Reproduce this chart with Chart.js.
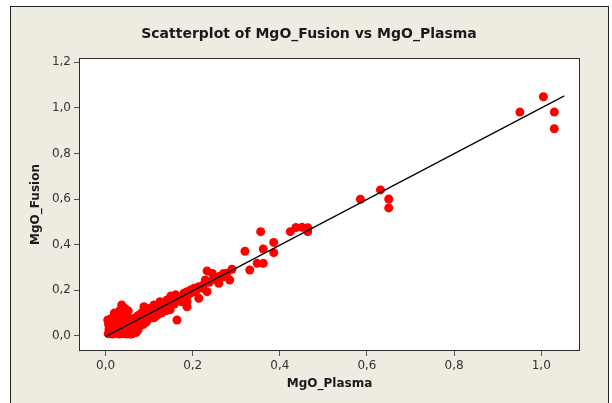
<!DOCTYPE html>
<html>
<head>
<meta charset="utf-8">
<script src="https://cdn.jsdelivr.net/npm/chart.js@4/dist/chart.umd.min.js"></script>
<style>
  html, body { margin: 0; padding: 0; background: #ffffff; }
  #wrap { width: 612px; height: 403px; position: relative; }
</style>
</head>
<body>
<div id="wrap"><canvas id="c" width="612" height="403"></canvas></div>
<script>
// ---- Data ----
const chartTitle = "Scatterplot of MgO_Fusion vs MgO_Plasma";
const xTitle = "MgO_Plasma";
const yTitle = "MgO_Fusion";
const xTicks = [0.0, 0.2, 0.4, 0.6, 0.8, 1.0];
const yTicks = [0.0, 0.2, 0.4, 0.6, 0.8, 1.0, 1.2];

const plasma = [
  0.006,0.008,0.010,0.012,0.014,0.016,0.018,0.020,0.022,0.024,
  0.026,0.028,0.030,0.032,0.034,0.036,0.038,0.040,0.042,0.044,
  0.046,0.048,0.050,0.052,0.054,0.056,0.058,0.060,0.008,0.012,
  0.016,0.020,0.024,0.028,0.032,0.036,0.040,0.044,0.048,0.052,
  0.056,0.060,0.010,0.018,0.026,0.034,0.042,0.050,0.058,0.014,
  0.022,0.030,0.038,0.046,0.054,0.020,0.032,0.042,0.037,0.048,
  0.064,0.066,0.068,0.070,0.072,0.075,0.078,0.080,0.082,0.085,
  0.088,0.090,0.093,0.095,0.099,0.100,0.104,0.108,0.111,0.112,
  0.116,0.120,0.122,0.126,0.130,0.133,0.136,0.141,0.142,0.146,
  0.150,0.155,0.158,0.161,0.164,0.166,0.170,0.175,0.180,0.183,
  0.187,0.187,0.187,0.190,0.195,0.198,0.203,0.207,0.214,0.214,
  0.220,0.225,0.229,0.233,0.233,0.238,0.245,0.248,0.255,0.260,
  0.262,0.268,0.271,0.278,0.285,0.290,0.320,0.331,0.348,0.356,
  0.362,0.362,0.386,0.386,0.424,0.437,0.451,0.464,0.464,0.585,
  0.631,0.650,0.650,0.951,1.005,1.030,1.030,
  0.062,0.066,0.058,0.064,0.005,0.007,0.027,0.044,0.052,0.070,
  0.074,0.086,0.096,0.106,0.118,0.128,0.138,0.148,0.125,0.150
];
const fusion = [
  0.010,0.030,0.012,0.050,0.020,0.008,0.040,0.065,0.015,0.030,
  0.010,0.055,0.025,0.008,0.045,0.020,0.070,0.010,0.035,0.015,
  0.060,0.008,0.040,0.025,0.010,0.050,0.020,0.030,0.060,0.075,
  0.045,0.085,0.060,0.090,0.075,0.095,0.085,0.070,0.090,0.065,
  0.075,0.050,0.040,0.020,0.070,0.055,0.050,0.012,0.010,0.012,
  0.035,0.045,0.030,0.040,0.035,0.100,0.110,0.105,0.136,0.095,
  0.030,0.050,0.080,0.035,0.060,0.090,0.065,0.045,0.100,0.075,
  0.128,0.090,0.060,0.105,0.085,0.120,0.095,0.110,0.136,0.080,
  0.115,0.100,0.130,0.121,0.140,0.110,0.128,0.158,0.120,0.145,
  0.135,0.160,0.140,0.180,0.070,0.155,0.170,0.150,0.187,0.175,
  0.194,0.150,0.128,0.180,0.201,0.190,0.209,0.195,0.216,0.165,
  0.210,0.225,0.245,0.194,0.285,0.235,0.274,0.250,0.245,0.231,
  0.262,0.258,0.274,0.275,0.245,0.292,0.371,0.289,0.318,0.457,
  0.381,0.318,0.410,0.365,0.457,0.475,0.476,0.474,0.457,0.599,
  0.640,0.600,0.561,0.981,1.048,0.981,0.908,
  0.010,0.020,0.008,0.040,0.070,0.050,0.100,0.120,0.110,0.015,
  0.025,0.050,0.070,0.080,0.090,0.100,0.110,0.115,0.150,0.175
];
// fitted regression line end points
const fitX = [0.000, 1.053];
const fitY = [-0.003, 1.052];

// ---- Chart ----
const points = plasma.map((v, i) => ({ x: v, y: fusion[i] }));
const fitLine = fitX.map((v, i) => ({ x: v, y: fitY[i] }));
const fmt = v => v.toFixed(1).replace('.', ',');
const FONT = "'DejaVu Sans', Verdana, sans-serif";

const frame = {
  id: 'frame',
  beforeDraw(chart) {
    const ctx = chart.ctx, a = chart.chartArea;
    ctx.save();
    ctx.fillStyle = '#ffffff';
    ctx.fillRect(0, 0, chart.width, chart.height);
    ctx.fillStyle = '#EEEBE1';
    ctx.fillRect(10.5, 6.5, 598, 400);
    ctx.strokeStyle = '#222222';
    ctx.lineWidth = 1;
    ctx.strokeRect(10.5, 6.5, 598, 400);
    ctx.fillStyle = '#ffffff';
    ctx.fillRect(a.left, a.top, a.right - a.left, a.bottom - a.top);
    ctx.restore();
  },
  afterDraw(chart) {
    const ctx = chart.ctx, a = chart.chartArea;
    ctx.save();
    ctx.strokeStyle = '#2a2a2a';
    ctx.lineWidth = 1;
    ctx.strokeRect(Math.round(a.left) + 0.5, Math.round(a.top) + 0.5,
                   Math.round(a.right - a.left) - 1, Math.round(a.bottom - a.top) - 1);
    ctx.fillStyle = '#1a1a1a';
    ctx.textAlign = 'center';
    ctx.textBaseline = 'middle';
    ctx.font = 'bold 14px ' + FONT;
    ctx.fillText(chartTitle, 309, 34);
    ctx.font = 'bold 12px ' + FONT;
    ctx.fillText(xTitle, (a.left + a.right) / 2, 384);
    ctx.translate(36, (a.top + a.bottom) / 2);
    ctx.rotate(-Math.PI / 2);
    ctx.fillText(yTitle, 0, 0);
    ctx.restore();
  }
};

new Chart(document.getElementById('c'), {
  type: 'scatter',
  data: {
    datasets: [
      {
        type: 'line',
        data: fitLine,
        borderColor: '#000000',
        borderWidth: 1.2,
        pointRadius: 0,
        fill: false,
        order: 0
      },
      {
        type: 'scatter',
        data: points,
        backgroundColor: '#FF0000',
        borderColor: '#FF0000',
        borderWidth: 0,
        pointRadius: 4.5,
        order: 1
      }
    ]
  },
  options: {
    responsive: false,
    animation: false,
    devicePixelRatio: 1,
    layout: { padding: { left: 0, top: 58, right: 32, bottom: 0 } },
    plugins: { legend: { display: false }, tooltip: { enabled: false }, title: { display: false } },
    scales: {
      x: {
        type: 'linear',
        min: -0.061, max: 1.089,
        afterFit(s) { s.height = 52; },
        afterBuildTicks(s) { s.ticks = xTicks.map(v => ({ value: v })); },
        grid: { drawOnChartArea: false, drawTicks: true, tickLength: 5, tickColor: '#555555', lineWidth: 1 },
        border: { display: false },
        ticks: { callback: v => fmt(v), color: '#333333', padding: 3, font: { family: FONT, size: 12 }, maxRotation: 0 }
      },
      y: {
        type: 'linear',
        min: -0.066, max: 1.218,
        afterFit(s) { s.width = 79; },
        afterBuildTicks(s) { s.ticks = yTicks.map(v => ({ value: v })); },
        grid: { drawOnChartArea: false, drawTicks: true, tickLength: 5, tickColor: '#555555', lineWidth: 1 },
        border: { display: false },
        ticks: { callback: v => fmt(v), color: '#333333', padding: 3, font: { family: FONT, size: 12 } }
      }
    }
  },
  plugins: [frame]
});
</script>
</body>
</html>
